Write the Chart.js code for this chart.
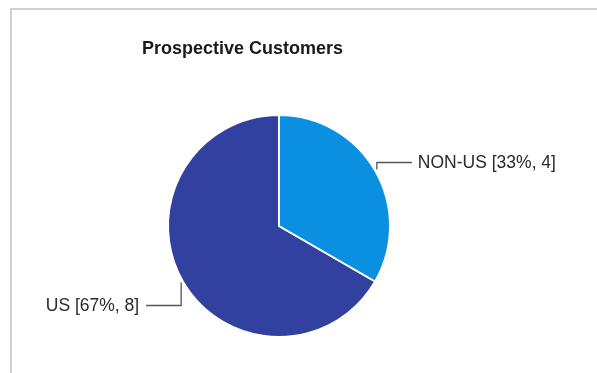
<html>
<head>
<script src="https://cdn.jsdelivr.net/npm/chart.js"></script>
<style>
  body { margin: 0; background: #fff; }
  #frame { position: absolute; left: 10px; top: 8px; width: 600px; height: 380px;
           border-top: 2px solid #d0d0d0; border-left: 2px solid #d0d0d0; }
  #wrap { position: absolute; left: 0; top: 0; width: 597px; height: 373px; }
</style>
</head>
<body>
<div id="frame"></div>
<div id="wrap"><canvas id="myChart"></canvas></div>
<script>
var categories = ['US', 'NON-US'];
var counts = [8, 4];
var percents = [67, 33];
var colors = ['#3240a0', '#0b8fe0'];
// label placement: vertical step from slice edge, horizontal leader length
var labelDy = [23, -7];
var leaderLen = 35;

var leaderLabels = {
    id: 'leaderLabels',
    afterDatasetsDraw: function(chart) {
        var ctx = chart.ctx;
        var meta = chart.getDatasetMeta(0);
        ctx.save();
        ctx.font = '17.5px "Liberation Sans", Arial, sans-serif';
        ctx.textBaseline = 'middle';
        ctx.strokeStyle = '#555';
        ctx.lineWidth = 1.3;
        ctx.fillStyle = '#2a2a2a';
        meta.data.forEach(function(arc, i) {
            var p = arc.getProps(['x', 'y', 'startAngle', 'endAngle', 'outerRadius'], true);
            var mid = (p.startAngle + p.endAngle) / 2;
            var r = p.outerRadius + 2;
            var ax = p.x + Math.cos(mid) * r;
            var ay = p.y + Math.sin(mid) * r;
            var right = Math.cos(mid) >= 0;
            var ly = ay + labelDy[i];
            var ex = right ? ax + leaderLen : ax - leaderLen;
            ctx.beginPath();
            ctx.moveTo(ax, ay);
            ctx.lineTo(ax, ly);
            ctx.lineTo(ex, ly);
            ctx.stroke();
            var txt = categories[i] + ' [' + percents[i] + '%, ' + counts[i] + ']';
            ctx.textAlign = right ? 'left' : 'right';
            ctx.fillText(txt, right ? ex + 6 : ex - 7, ly + 0.5);
        });
        ctx.restore();
    }
};

var ctx = document.getElementById('myChart').getContext('2d');
var myPie = new Chart(ctx, {
    type: 'pie',
    data: {
        labels: categories,
        datasets: [{
            data: counts,
            backgroundColor: colors,
            borderColor: '#ffffff',
            borderWidth: 2
        }]
    },
    options: {
        responsive: true,
        maintainAspectRatio: false,
        animation: false,
        rotation: 120,
        layout: { padding: { left: 142, right: 181, top: 0, bottom: 35 } },
        plugins: {
            legend: { display: false },
            tooltip: { enabled: false },
            title: {
                display: true,
                text: 'Prospective Customers',
                align: 'start',
                color: '#1a1a1a',
                font: { family: '"Liberation Sans", Arial, sans-serif', size: 18, weight: 'bold', lineHeight: 1.2 },
                padding: { top: 38, bottom: 54.4 }
            }
        }
    },
    plugins: [leaderLabels]
});
</script>
</body>
</html>
